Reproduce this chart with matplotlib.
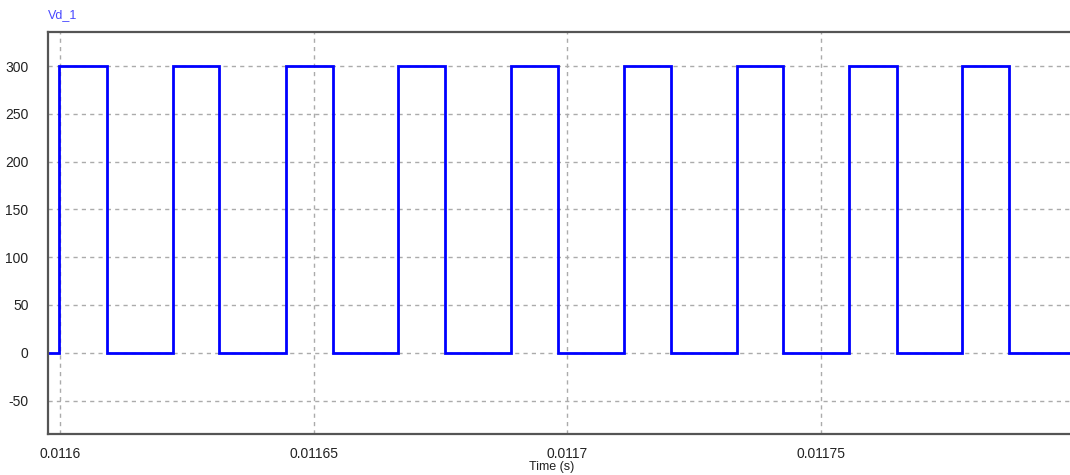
import numpy as np
import matplotlib.pyplot as plt

plt.rcParams['font.family'] = ['Liberation Sans', 'DejaVu Sans']
plt.rcParams['axes.unicode_minus'] = False

# Switching instants of Vd_1, in microseconds after t = 0.0116 s
T0 = 0.0116
rise_us = [-0.24, 22.14, 44.49, 66.65, 88.88, 111.18, 133.41, 155.63, 177.93]
fall_us = [9.12, 31.33, 53.71, 75.86, 98.22, 120.39, 142.61, 164.98, 187.20]
V_HIGH = 300.0
V_LOW = 0.0

x_ticks = [0.0116, 0.01165, 0.0117, 0.01175]
x_ticklabels = ["0.0116", "0.01165", "0.0117", "0.01175"]
y_ticks = [-50, 0, 50, 100, 150, 200, 250, 300]

T_START = 0.011597534
T_END = 0.01179918


def build_waveform():
	# Step waveform: low before the first rise, then alternating high/low
	t = [T_START]
	v = [V_LOW]
	for r, f in zip(rise_us, fall_us):
		t += [T0 + r * 1e-6, T0 + f * 1e-6]
		v += [V_HIGH, V_LOW]
	t.append(T_END)
	v.append(V_LOW)
	return np.array(t), np.array(v)


def main():
	t, v = build_waveform()

	fig = plt.figure(figsize=(10.7, 4.75), dpi=100)
	ax = fig.add_axes([48 / 1070, 41 / 475, 1 - 48 / 1070, 402 / 475])

	ax.plot(t, v, drawstyle="steps-post", color="#0000ff", lw=2.0, solid_joinstyle="miter")

	ax.set_xlim(T_START, T_END)
	ax.set_ylim(-85, 335.6)
	ax.set_xticks(x_ticks)
	ax.set_xticklabels(x_ticklabels)
	ax.set_yticks(y_ticks)
	ax.tick_params(length=0, labelsize=10, labelcolor="#222222")
	ax.tick_params(axis="x", pad=9)
	ax.tick_params(axis="y", pad=14)

	ax.grid(True, color="#ababab", linestyle=(0, (3, 3)), lw=1.0)
	ax.set_axisbelow(True)

	for side in ("left", "bottom", "top"):
		ax.spines[side].set_color("#555555")
		ax.spines[side].set_linewidth(1.6)
	ax.spines["right"].set_visible(False)

	fig.text(48 / 1070, 1 - 15 / 475, "Vd_1", color="#4848ff", fontsize=9,
		ha="left", va="center")
	fig.text(552 / 1070, 1 - 467 / 475, "Time (s)", color="#222222", fontsize=9,
		ha="center", va="center")

	fig.savefig("out.png", dpi=100)


if __name__ == "__main__":
	main()
